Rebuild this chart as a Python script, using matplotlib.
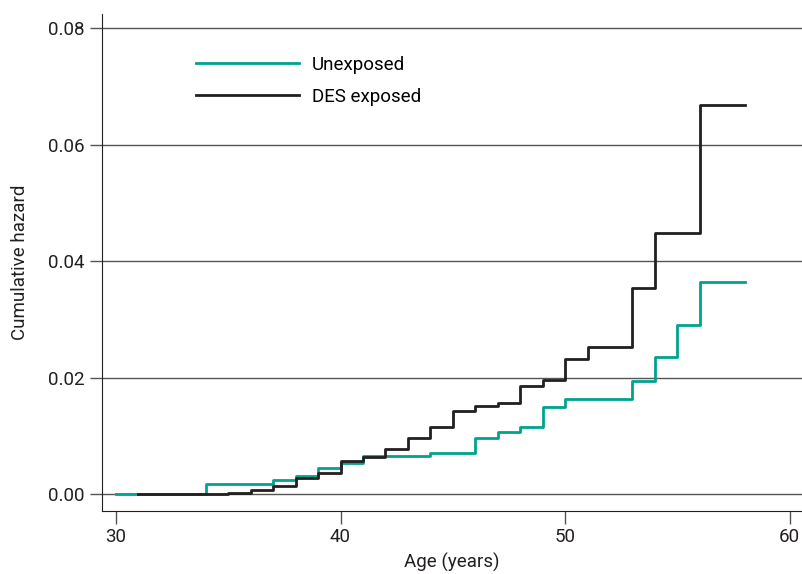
import matplotlib.pyplot as plt

# Cumulative hazard step data
age_unexp = [30, 34, 37, 38, 39, 40, 41, 44, 46, 47, 48, 49, 50, 53, 54, 55, 56, 58]
haz_unexp = [0, 0.0018, 0.0024, 0.0031, 0.0045, 0.0053, 0.0065, 0.0071, 0.0097, 0.0106,
             0.0115, 0.0150, 0.0164, 0.0194, 0.0235, 0.0290, 0.0364, 0.0364]

age_des = [31, 35, 36, 37, 38, 39, 40, 41, 42, 43, 44, 45, 46, 47, 48, 49, 50, 51, 53, 54, 56, 58]
haz_des = [0, 0.0002, 0.0007, 0.0014, 0.0027, 0.0037, 0.0057, 0.0064, 0.0077, 0.0097, 0.0115,
           0.0143, 0.0151, 0.0157, 0.0186, 0.0196, 0.0231, 0.0253, 0.0354, 0.0448, 0.0668, 0.0668]

x_ticks = [30, 40, 50, 60]
y_ticks = [0.00, 0.02, 0.04, 0.06, 0.08]

plt.rcParams['font.family'] = ['Liberation Sans Narrow', 'Roboto', 'DejaVu Sans']

fig = plt.figure(figsize=(8.02, 5.74), dpi=100)
ax = fig.add_axes([0.1272, 0.1098, 0.8728, 0.8658])

# horizontal grid
for yv in y_ticks:
    ax.axhline(yv, color='#555555', linewidth=1.0, zorder=1)

ax.step(age_unexp, haz_unexp, where='post', color='#00a38c', linewidth=2.0,
        label='Unexposed', zorder=3)
ax.step(age_des, haz_des, where='post', color='#231f20', linewidth=2.0,
        label='DES exposed', zorder=4)

ax.set_xlim(29.38, 60.55)
ax.set_ylim(-0.0029, 0.0824)
ax.set_xticks(x_ticks)
ax.set_yticks(y_ticks)
ax.set_yticklabels([f'{v:.2f}' for v in y_ticks])

ax.spines['top'].set_visible(False)
ax.spines['right'].set_visible(False)
ax.spines['left'].set_color('#231f20')
ax.spines['bottom'].set_color('#231f20')
ax.tick_params(direction='out', length=9, width=1, color='#555555', labelsize=13.5,
               labelcolor='#231f20')

ax.set_xlabel('Age (years)', fontsize=13.5, color='#231f20', labelpad=5)
ax.set_ylabel('Cumulative hazard', fontsize=13.5, color='#231f20', labelpad=14)

ax.legend(loc='upper left', bbox_to_anchor=(0.11, 0.95), frameon=False, fontsize=13.5,
          handlelength=5.5, handletextpad=0.7, labelspacing=0.75)

fig.savefig('out.png', dpi=100)
